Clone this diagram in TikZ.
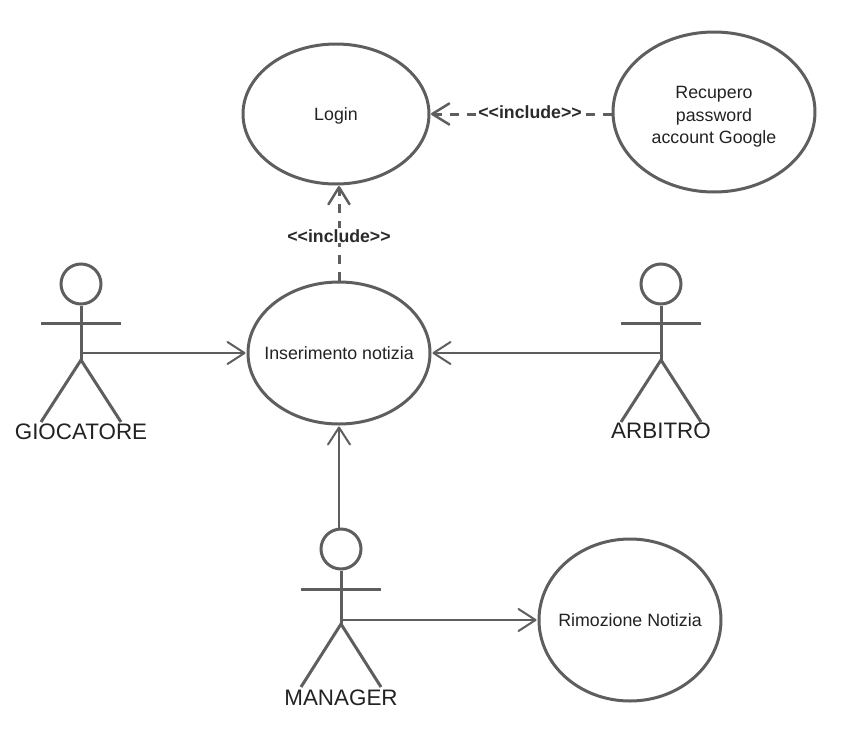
\documentclass[tikz,border=0pt]{standalone}
\usepackage{fontspec}
\setmainfont{Liberation Sans}
\usetikzlibrary{arrows.meta,shapes.geometric}
\definecolor{linec}{HTML}{5E5E5E}
\definecolor{textc}{HTML}{222222}
\tikzset{
  usecase/.style={draw=linec,line width=3pt,ellipse,inner xsep=-35pt,inner ysep=-15pt,align=center,text=textc,font=\fontsize{17.8}{22.5}\selectfont},
  headc/.style={draw=linec,line width=3pt,circle,inner sep=0pt,minimum size=40pt},
  limb/.style={draw=linec,line width=3pt},
  actorlabel/.style={text=textc,inner sep=0pt,font=\fontsize{22.4}{26}\selectfont},
  assoc/.style={draw=linec,line width=2pt,-{Straight Barb[length=17pt,width=22pt,line width=2pt,round]},shorten >=1pt},
  incl/.style={draw=linec,line width=3pt,dash pattern=on 9pt off 8pt,-{Straight Barb[length=17pt,width=21pt,line width=2.5pt,round,sep=0pt]},shorten >=0.5pt},
  incltext/.style={fill=white,inner sep=1pt,text=textc!85!linec,font=\bfseries\fontsize{17.7}{21}\selectfont}
}
\begin{document}
\begin{tikzpicture}[x=1pt,y=-1pt]
\useasboundingbox (0,0) rectangle (855,742);
\node[usecase,minimum width=186pt,minimum height=140pt] (login) at (336,114) {\rule{0pt}{16pt}Login};
\node[usecase,minimum width=202pt,minimum height=160pt] (recupero) at (714,112) {\rule{0pt}{22pt}Recupero\\password\\account Google};
\node[usecase,minimum width=182pt,minimum height=142pt] (ins) at (339,353) {Inserimento notizia};
\node[usecase,minimum width=182pt,minimum height=162pt] (rim) at (630,620) {Rimozione Notizia};
% GIOCATORE
\node[headc] (gh) at (81,284) {};
\coordinate (gc) at (81,360);
\coordinate (gla) at (41,323); \coordinate (gra) at (121,323);
\coordinate (gll) at (41,422); \coordinate (grl) at (121,422);
\coordinate (gs) at (81,353);
\draw[limb] (gh.south) -- (gc);
\draw[limb] (gla) -- (gra);
\draw[limb] (gll) -- (gc) -- (grl);
\node[actorlabel] (gl) at (81,432) {GIOCATORE};
% ARBITRO
\node[headc] (ah) at (661,284) {};
\coordinate (ac) at (661,360);
\coordinate (ala) at (621,323); \coordinate (ara) at (701,323);
\coordinate (all) at (621,422); \coordinate (arl) at (701,422);
\coordinate (as) at (661,353);
\draw[limb] (ah.south) -- (ac);
\draw[limb] (ala) -- (ara);
\draw[limb] (all) -- (ac) -- (arl);
\node[actorlabel] (al) at (661,431) {ARBITRO};
% MANAGER
\node[headc] (mh) at (341,549) {};
\coordinate (mc) at (341,624);
\coordinate (mla) at (301,589); \coordinate (mra) at (381,589);
\coordinate (mll) at (301,687); \coordinate (mrl) at (381,687);
\coordinate (ms) at (341,620);
\coordinate (mt) at (339,529);
\draw[limb] (mh.south) -- (mc);
\draw[limb] (mla) -- (mra);
\draw[limb] (mll) -- (mc) -- (mrl);
\node[actorlabel] (ml) at (341,698) {MANAGER};
% connectors
\draw[assoc] (gs) -- (ins.west);
\draw[assoc] (as) -- (ins.east);
\draw[assoc] (mt) -- (ins.south);
\draw[assoc] (ms) -- (rim.west);
\draw[incl] (ins.north) -- (ins.north |- login.south) node[incltext,pos=0.47] (il) {<{}<include>{}>};
\draw[incl] (recupero.west |- login.east) -- (login.east) node[incltext,pos=0.45,yshift=2pt] (ir) {<{}<include>{}>};
\end{tikzpicture}
\end{document}
